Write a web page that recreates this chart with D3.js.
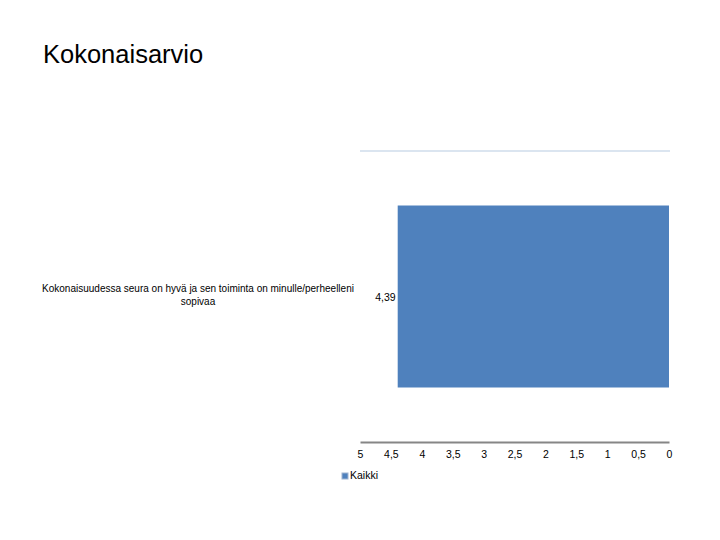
<!DOCTYPE html>
<html><head><meta charset="utf-8">
<script src="https://cdn.jsdelivr.net/npm/d3@7"></script>
<style>body{margin:0;background:#fff;}svg{display:block;}</style>
</head><body>
<script>
const title = "Kokonaisarvio";
const categories = ["Kokonaisuudessa seura on hyvä ja sen toiminta on minulle/perheelleni sopivaa"];
const categoryLines = [["Kokonaisuudessa seura on hyvä ja sen toiminta on minulle/perheelleni", "sopivaa"]];
const seriesName = "Kaikki";
const values = [4.39];
const ticks = [5, 4.5, 4, 3.5, 3, 2.5, 2, 1.5, 1, 0.5, 0];
const fmt = v => String(v).replace(".", ",");

const W = 720, H = 540;
const svg = d3.select("body").append("svg").attr("width", W).attr("height", H);
const font = "Liberation Sans, Arial, sans-serif";

svg.append("text").attr("x", 43).attr("y", 63).text(title)
  .attr("font-family", font).attr("font-size", 25.5).attr("fill", "#000");

const x = d3.scaleLinear().domain([5, 0]).range([360, 669]);
const y = d3.scaleBand().domain(categories).range([151, 442]).paddingInner(0).paddingOuter(0.2995);

// top boundary line
svg.append("line").attr("x1", 360).attr("x2", 670).attr("y1", 151).attr("y2", 151)
  .attr("stroke", "#dbe5f0").attr("stroke-width", 2);

// bars
svg.selectAll("rect.bar").data(values).enter().append("rect")
  .attr("x", d => x(d)).attr("width", d => x(0) - x(d))
  .attr("y", (d, i) => y(categories[i])).attr("height", y.bandwidth())
  .attr("fill", "#4f81bd");

// value labels
svg.selectAll("text.val").data(values).enter().append("text")
  .attr("x", d => x(d) - 2).attr("y", (d, i) => y(categories[i]) + y.bandwidth() / 2 + 4)
  .attr("text-anchor", "end").attr("font-family", font).attr("font-size", 10.5).attr("fill", "#000")
  .text(d => fmt(d));

// category labels
categoryLines.forEach((lines, i) => {
  const cy = y(categories[i]) + y.bandwidth() / 2;
  const t = svg.append("text").attr("text-anchor", "middle").attr("font-family", font)
    .attr("font-size", 10).attr("fill", "#000");
  lines.forEach((l, j) => {
    t.append("tspan").attr("x", 198).attr("y", cy - 1 + (j - (lines.length - 1) / 2) * 13 + 3).text(l);
  });
});

// x axis
const axis = d3.axisBottom(x).tickValues(ticks).tickSize(0).tickPadding(9).tickFormat(fmt);
const ax = svg.append("g").attr("transform", "translate(0,442)").call(axis);
ax.select(".domain").attr("stroke", "#868686").attr("stroke-width", 2);
ax.selectAll("text").attr("font-family", font).attr("font-size", 10.5).attr("fill", "#000");

// legend
svg.append("rect").attr("x", 342).attr("y", 473).attr("width", 6).attr("height", 6)
  .attr("fill", "#4f81bd").attr("stroke", "#a0b4d0");
svg.append("text").attr("x", 350).attr("y", 479).text(seriesName)
  .attr("font-family", font).attr("font-size", 10.5).attr("fill", "#000");
</script>
</body></html>
